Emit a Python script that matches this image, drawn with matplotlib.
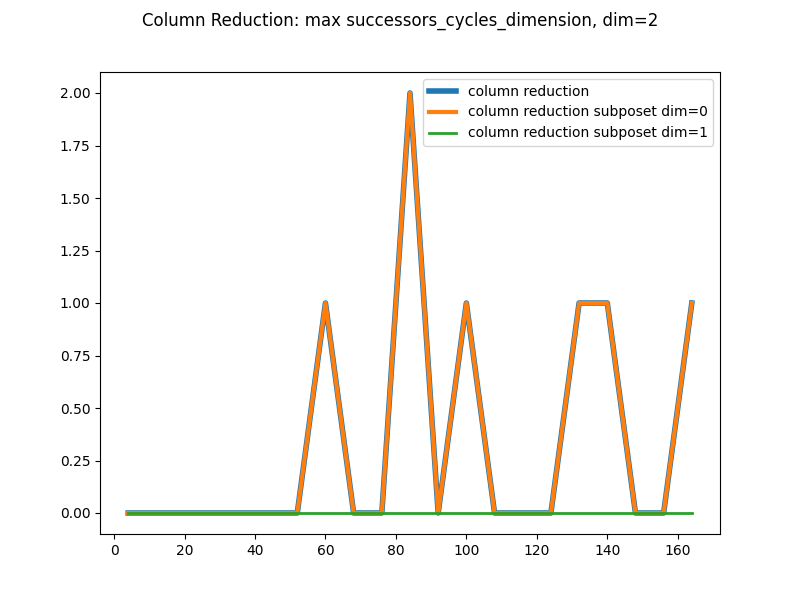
import matplotlib
matplotlib.use("Agg")
import matplotlib.pyplot as plt

x = list(range(4, 165, 8))
full = [0,0,0,0,0,0,0,1,0,0,2,0,1,0,0,0,1,1,0,0,1]
sub0 = [0,0,0,0,0,0,0,1,0,0,2,0,1,0,0,0,1,1,0,0,1]
sub1 = [0]*len(x)

fig, ax = plt.subplots(figsize=(8, 6), dpi=100)
ax.plot(x, full, lw=4, label="column reduction")
ax.plot(x, sub0, lw=3, label="column reduction subposet dim=0")
ax.plot(x, sub1, lw=2, label="column reduction subposet dim=1")
ax.legend(loc="upper right")
fig.suptitle("Column Reduction: max successors_cycles_dimension, dim=2")
fig.savefig("out.png")
